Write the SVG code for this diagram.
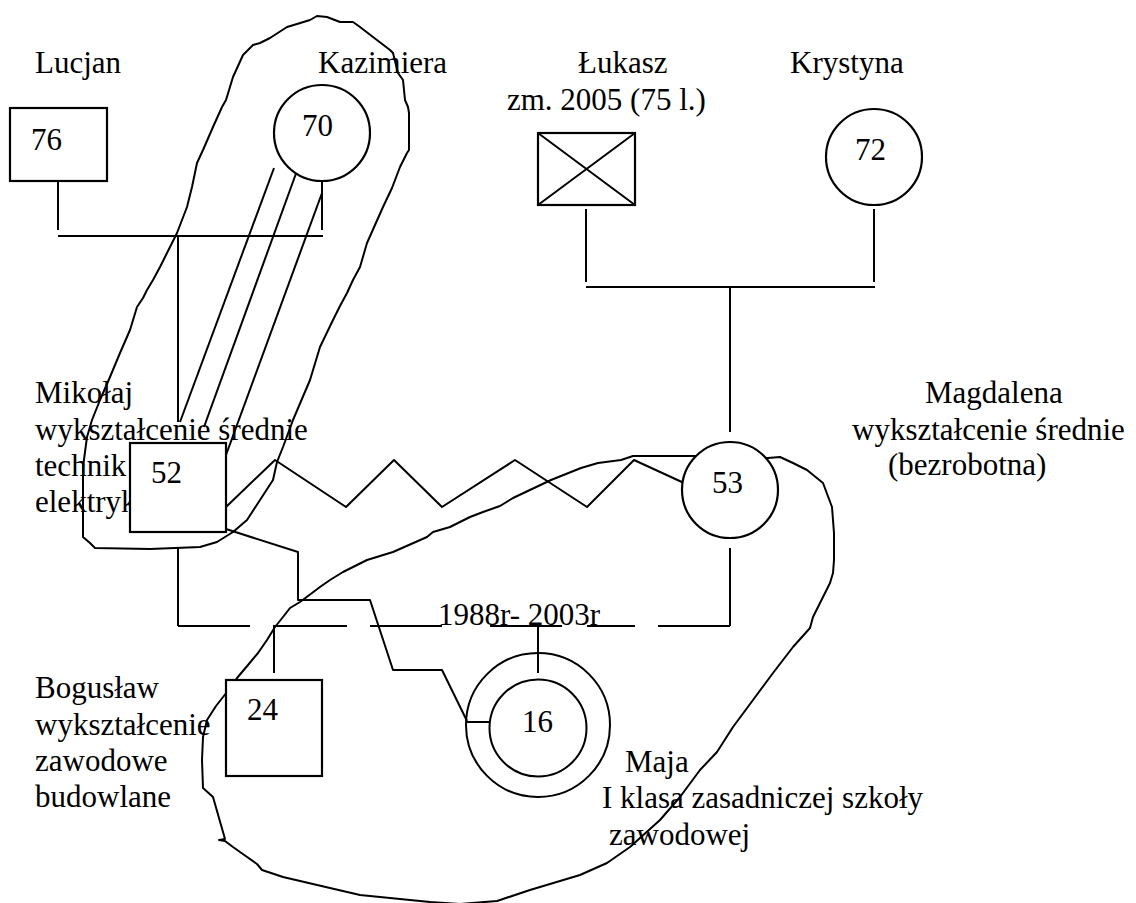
<svg xmlns="http://www.w3.org/2000/svg" width="1136" height="903" viewBox="0 0 1136 903">
  <style>
    text { font-family: "Liberation Serif", "Times New Roman", serif; font-size: 31px; fill: #000; stroke: none; }
    .ln { fill: none; stroke: #000; stroke-width: 2; stroke-linejoin: round; }
    .nd { fill: #fff; stroke: #000; stroke-width: 2.2; }
    .blob { fill: none; stroke: #000; stroke-width: 2; stroke-linejoin: round; stroke-linecap: round; }
  </style>
  <rect width="1136" height="903" fill="#fff"/>

  <!-- hand-drawn boundaries -->
  <g id="boundaries">
    <path class="blob" d="M317,16 L327,17 L340,22 L353,22 L360,27 L373,37 L390,50 L393,53 L398,73 L403,80 L405,100 L408,107 L409,113 L409,150 L407,153 L400,167 L392,188 L383,207 L367,243 L360,267 L353,280 L347,293 L340,306 L333,320 L320,347 L310,380 L293,420 L283,447 L277,462 L273,480 L260,500 L247,520 L233,532 L217,542 L200,547 L150,549 L95,548 L90,543 L83,537 L83,500 L83,467 L87,437 L92,420 L100,400 L110,377 L120,353 L130,330 L137,307 L143,298 L147,290 L153,280 L160,267 L165,257 L171,245 L177,233 L182,220 L187,207 L192,187 L197,163 L203,150 L213,127 L222,107 L226,100 L233,77 L238,66 L243,55 L253,45 L260,43 L270,38 L287,27 L297,24 L310,20 Z"/>
    <path class="blob" d="M768,458 L780,457 L793,463 L807,470 L823,483 L832,507 L834,533 L834,560 L833,573 L830,583 L820,603 L813,617 L810,628 L793,647 L773,673 L753,700 L733,727 L717,752 L700,770 L680,797 L660,820 L630,847 L607,863 L580,875 L530,890 L497,901 L460,904 L430,902 L360,895 L330,888 L283,877 L262,870 L257,864 L240,852 L233,847 L225,841 L219,840 L225,839 L213,797 L203,788 L202,760 L203,737 L207,720 L216,706 L227,692 L237,678 L248,665 L258,653 L267,640 L275,627 L283,617 L290,608 L300,602 L320,587 L330,580 L343,572 L367,560 L393,552 L427,537 L433,532 L450,527 L470,517 L483,512 L500,506 L513,498 L551,480 L581,468 L598,463 L621,460 L633,456 L700,456 Z"/>
  </g>

  <!-- connectors -->
  <g id="connectors" class="ln">
    <line x1="58" y1="181" x2="58" y2="230"/>
    <line x1="322" y1="181" x2="322" y2="230"/>
    <line x1="58" y1="236" x2="323" y2="236"/>
    <line x1="178" y1="236" x2="178" y2="422"/>
    <line x1="274" y1="168" x2="180" y2="422"/>
    <line x1="298" y1="168" x2="204" y2="427"/>
    <line x1="322" y1="193" x2="226" y2="455"/>

    <line x1="586" y1="209" x2="586" y2="282"/>
    <line x1="874" y1="209" x2="874" y2="282"/>
    <line x1="586" y1="287" x2="875" y2="287"/>
    <line x1="730" y1="287" x2="730" y2="432"/>

    <polyline points="226,507 275,460 346,507 394,460 442,507 515,460 587,507 634,460 684,483"/>

    <line x1="178" y1="548" x2="178" y2="626"/>
    <line x1="730" y1="548" x2="730" y2="626"/>
    <line x1="178" y1="626" x2="250" y2="626"/>
    <line x1="273" y1="626" x2="347" y2="626"/>
    <line x1="370" y1="626" x2="442" y2="626"/>
    <line x1="490" y1="626" x2="562" y2="626"/>
    <line x1="587" y1="626" x2="635" y2="626"/>
    <line x1="658" y1="626" x2="730" y2="626"/>
    <line x1="274" y1="626" x2="274" y2="673"/>
    <line x1="538" y1="626" x2="538" y2="673"/>

    <polyline points="226,529 298,552 298,600 370,600 393,670 442,670 467,721"/>
    <line x1="467" y1="722" x2="490" y2="722"/>
    <text x="438" y="625">1988r- 2003r</text>
  </g>

  <!-- people -->
  <g id="lucjan">
    <text x="35" y="73">Lucjan</text>
    <rect class="nd" x="10" y="108" width="97" height="73"/>
    <text x="31" y="150">76</text>
  </g>

  <g id="kazimiera">
    <text x="318" y="73">Kazimiera</text>
    <circle class="nd" cx="322" cy="133" r="48"/>
    <text x="302" y="136">70</text>
  </g>

  <g id="lukasz">
    <text x="578" y="73">Łukasz</text>
    <text x="507" y="110">zm. 2005 (75 l.)</text>
    <rect class="nd" x="538" y="133" width="97" height="72"/>
    <path class="ln" d="M538,133 L635,205 M635,133 L538,205"/>
  </g>

  <g id="krystyna">
    <text x="790" y="73">Krystyna</text>
    <circle class="nd" cx="874" cy="157" r="48"/>
    <text x="855" y="160">72</text>
  </g>

  <g id="mikolaj">
    <text x="35" y="403">Mikołaj</text>
    <text x="35" y="440">wykształcenie średnie</text>
    <text x="35" y="476">technik</text>
    <text x="35" y="512">elektryk</text>
    <rect class="nd" x="130" y="443" width="96" height="89"/>
    <text x="151" y="483">52</text>
  </g>

  <g id="magdalena">
    <text x="925" y="403">Magdalena</text>
    <text x="852" y="440">wykształcenie średnie</text>
    <text x="888" y="475">(bezrobotna)</text>
    <circle class="nd" cx="730" cy="490" r="48"/>
    <text x="712" y="493">53</text>
  </g>

  <g id="boguslaw">
    <text x="35" y="698">Bogusław</text>
    <text x="35" y="735">wykształcenie</text>
    <text x="35" y="771">zawodowe</text>
    <text x="35" y="807">budowlane</text>
    <rect class="nd" x="226" y="680" width="96" height="96"/>
    <text x="247" y="720">24</text>
  </g>

  <g id="maja">
    <circle class="ln" cx="538" cy="725" r="72"/>
    <circle class="ln" cx="538" cy="728" r="48.5"/>
    <text x="522" y="732">16</text>
    <text x="625" y="772">Maja</text>
    <text x="602" y="808">I klasa zasadniczej szkoły</text>
    <text x="609" y="845">zawodowej</text>
  </g>
</svg>
